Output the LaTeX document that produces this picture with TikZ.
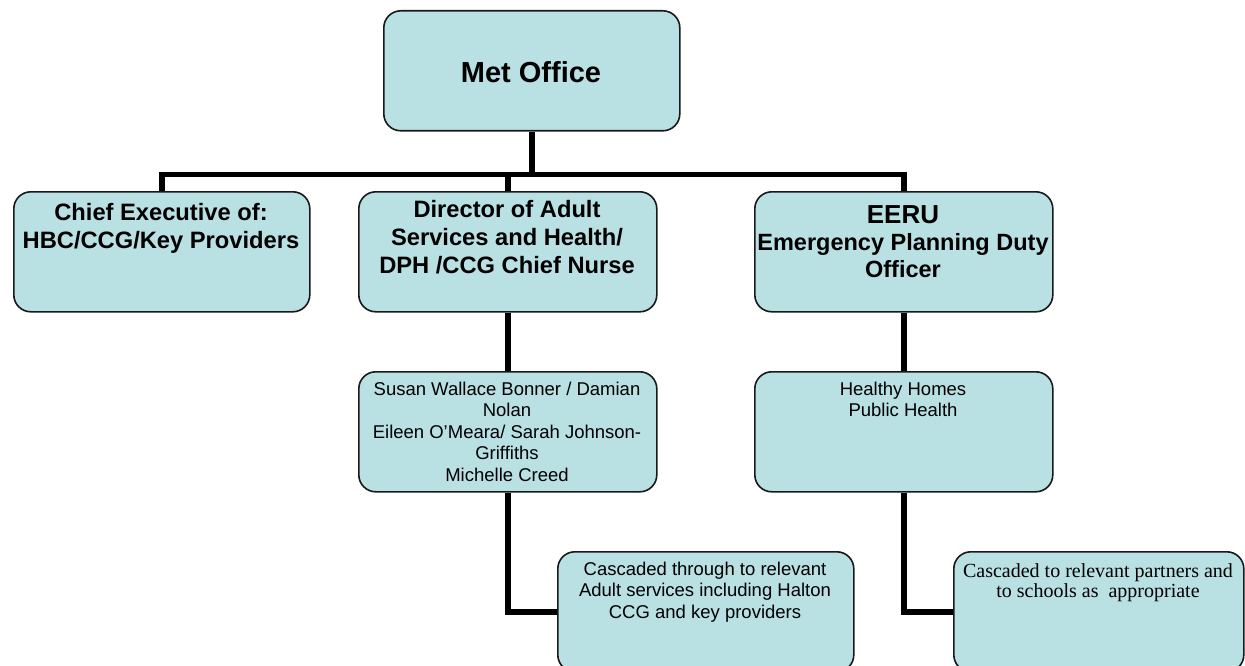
\documentclass[tikz,border=0pt]{standalone}
\usepackage{fontspec}
\setmainfont{Liberation Sans}
\newfontfamily\cascserif{Liberation Serif}
\definecolor{boxfill}{RGB}{185,224,227}
\newcommand\mltext[1]{\parbox[t]{330pt}{\centering #1}}
\begin{document}
\begin{tikzpicture}[x=1pt,y=-1pt,
  box/.style={draw=black!90, line width=1.6pt, fill=boxfill, rounded corners=17pt,
    inner sep=0pt, anchor=north west, minimum height=120pt},
  conn/.style={line width=5.8pt, draw=black},
  txt/.style={inner sep=0pt, anchor=base},
  bigbold/.style={font=\fontsize{23.7}{28}\selectfont\bfseries},
  small/.style={font=\fontsize{18.5}{21.5}\selectfont}]
\useasboundingbox (0,0) rectangle (1245,666);
\clip (0,0) rectangle (1245,666);
\coordinate (bus) at (0,174.5);
\node[box, minimum width=296pt] (met) at (383,10) {};
\node[box, minimum width=296pt] (chief) at (13,191) {};
\node[box, minimum width=298pt] (dir) at (358,191) {};
\node[box, minimum width=298pt] (eeru) at (754,191) {};
\node[box, minimum width=298pt] (sus) at (358,371) {};
\node[box, minimum width=298pt] (hh) at (754,371) {};
\node[box, minimum width=296pt] (c1) at (557,551) {};
\node[box, minimum width=290pt] (c2) at (953,551) {};
\draw[conn] (chief.north) |- (eeru.north |- bus) -- (eeru.north);
\draw[conn] (met.south) -- (met.south |- bus);
\draw[conn] (dir.north) -- (dir.north |- bus);
\draw[conn] (dir.south) -- (sus.north);
\draw[conn] (eeru.south) -- (hh.north);
\draw[conn] (sus.south) |- (c1.west);
\draw[conn] (hh.south) |- (c2.west);
\node[txt, font=\fontsize{29}{34}\selectfont\bfseries] (tmet) at (531,83) {Met Office};
\node[txt, bigbold] (tchief) at (161,220) {\mltext{Chief Executive of:\\HBC/CCG/Key Providers}};
\node[txt, bigbold] (tdir) at (507,217) {\mltext{Director of Adult\\Services and Health/\\DPH /CCG Chief Nurse}};
\node[txt, font=\fontsize{23.5}{27}\selectfont\bfseries] (teeru) at (903,223) {\mltext{{\fontsize{26}{27}\selectfont EERU}\\Emergency Planning Duty\\Officer}};
\node[txt, small] (tsus) at (507,395) {\mltext{Susan Wallace Bonner / Damian\\Nolan\\Eileen O’Meara/ Sarah Johnson-\\Griffiths\\Michelle Creed}};
\node[txt, small] (thh) at (903,395) {\mltext{Healthy Homes\\Public Health}};
\node[txt, small] (tc1) at (705,575) {\mltext{Cascaded through to relevant\\Adult services including Halton\\CCG and key providers}};
\node[txt, font=\fontsize{20}{20.5}\selectfont\cascserif] (tc2) at (1098,577) {\mltext{Cascaded to relevant partners and\\to schools as\ \ appropriate}};
\end{tikzpicture}
\end{document}
